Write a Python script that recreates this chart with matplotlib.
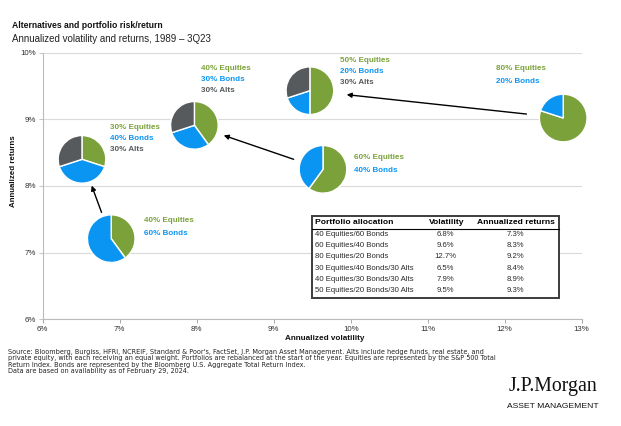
import numpy as np
import matplotlib
matplotlib.use('Agg')
from matplotlib import pyplot as plt
from matplotlib.patches import Rectangle

plt.rcParams['font.family'] = ['Liberation Sans', 'DejaVu Sans']

# portfolios, in table order
names = ['40 Equities/60 Bonds', '60 Equities/40 Bonds', '80 Equities/20 Bonds',
         '30 Equities/40 Bonds/30 Alts', '40 Equities/30 Bonds/30 Alts',
         '50 Equities/20 Bonds/30 Alts']
equities = [40, 60, 80, 30, 40, 50]
bonds = [60, 40, 20, 40, 30, 20]
alts = [0, 0, 0, 30, 30, 30]
# where the pies sit on the chart
pie_vol = [6.89, 9.64, 12.76, 6.51, 7.97, 9.47]
pie_ret = [7.21, 8.25, 9.02, 8.40, 8.91, 9.43]
# table values
table_vol = [6.8, 9.6, 12.7, 6.5, 7.9, 9.5]
table_ret = [7.3, 8.3, 9.2, 8.4, 8.9, 9.3]
# arrows: from portfolio -> to portfolio
arrows = [(0, 3), (1, 4), (2, 5)]

x_ticks = [6, 7, 8, 9, 10, 11, 12, 13]
y_ticks = [6, 7, 8, 9, 10]

GREEN = '#7BA23A'
BLUE = '#0B95F2'
GREY = '#565A5D'

W, H = 621, 426
fig = plt.figure(figsize=(W / 100, H / 100), dpi=100)


def fx(px):
    return px / W


def fy(py):
    return 1 - py / H


ax_l, ax_r, ax_t, ax_b = 42.7, 581.7, 52.7, 319.3
ax = fig.add_axes([fx(ax_l), fy(ax_b), fx(ax_r - ax_l), (ax_b - ax_t) / H])
ax.set_xlim(6, 13)
ax.set_ylim(6, 10)
ax.set_xticks(x_ticks)
ax.set_yticks(y_ticks)
ax.set_xticklabels([f'{t}%' for t in x_ticks])
ax.set_yticklabels([f'{t}%' for t in y_ticks])
ax.tick_params(labelsize=5.7, colors='#333333', length=3, width=0.6, pad=2)
ax.tick_params(axis='x', color='#999999')
ax.tick_params(axis='y', color='#bbbbbb')
for s in ['top', 'right']:
    ax.spines[s].set_visible(False)
for s in ['left', 'bottom']:
    ax.spines[s].set_color('#bbbbbb')
    ax.spines[s].set_linewidth(0.8)
ax.yaxis.grid(True, color='#dadada', lw=0.8)
ax.set_axisbelow(True)

# pies
r_px = 25
rx = r_px * 7 / (ax_r - ax_l)
ry = r_px * 4 / (ax_b - ax_t)
for i in range(len(names)):
    vals = [equities[i], bonds[i], alts[i]]
    cols = [GREEN, BLUE, GREY]
    vals, cols = zip(*[(v, c) for v, c in zip(vals, cols) if v > 0])
    ia = ax.inset_axes([pie_vol[i] - rx, pie_ret[i] - ry, 2 * rx, 2 * ry],
                       transform=ax.transData)
    ia.pie(vals, colors=cols, startangle=90, counterclock=False, radius=1,
           wedgeprops=dict(edgecolor='white', linewidth=1.0))
    ia.set_xlim(-1.05, 1.05)
    ia.set_ylim(-1.05, 1.05)
    ia.axis('off')

# arrows
gaps = [28, 31, 37]
for (a, b), g in zip(arrows, gaps):
    ax.annotate('', xy=(pie_vol[b], pie_ret[b]), xytext=(pie_vol[a], pie_ret[a]),
                arrowprops=dict(arrowstyle='-|>', color='black', lw=1.0,
                                mutation_scale=7, shrinkA=g * 0.72, shrinkB=g * 0.72))

# pie labels: offset from centre in px (dx, dy of first line, line spacing)
label_offsets = [(33, -18, 13), (31, -12, 13), (-67, -50, 13),
                 (28, -32, 11), (7, -57, 11), (30, -30, 11)]
for i, (dx, dy, sp) in enumerate(label_offsets):
    lines = [(f'{equities[i]}% Equities', GREEN), (f'{bonds[i]}% Bonds', BLUE)]
    if alts[i]:
        lines.append((f'{alts[i]}% Alts', GREY))
    for k, (txt, c) in enumerate(lines):
        ax.annotate(txt, xy=(pie_vol[i], pie_ret[i]), xytext=(dx * 0.72, -(dy + k * sp) * 0.72),
                    textcoords='offset points', ha='left', va='center',
                    fontsize=5.8, fontweight='bold', color=c)

# axis labels
fig.text(fx(325), fy(339), 'Annualized volatility', ha='center', va='center',
         fontsize=5.9, fontweight='bold', color='#111111')
fig.text(fx(13.5), fy(171), 'Annualized returns', ha='center', va='center',
         rotation=90, fontsize=5.7, fontweight='bold', color='#111111')

# titles
fig.text(fx(11.5), fy(26), 'Alternatives and portfolio risk/return', ha='left', va='center',
         fontsize=6.2, fontweight='bold', color='#111111')
fig.text(fx(11.5), fy(39), 'Annualized volatility and returns, 1989 \u2013 3Q23', ha='left',
         va='center', fontsize=7.0, color='#222222')

# table
tb_l, tb_t, tb_r, tb_b = 312.3, 215.5, 559, 297.5
fig.add_artist(Rectangle((fx(tb_l), fy(tb_b)), fx(tb_r - tb_l), (tb_b - tb_t) / H,
                         transform=fig.transFigure, facecolor='white',
                         edgecolor='#3c3c3c', lw=1.4, zorder=5))
fig.add_artist(plt.Line2D([fx(tb_l), fx(tb_r)], [fy(228.5), fy(228.5)],
                          transform=fig.transFigure, color='black', lw=0.8, zorder=6))
hdr_y = 222.8
fig.text(fx(315), fy(hdr_y), 'Portfolio allocation', ha='left', va='center',
         fontsize=6.1, fontweight='bold', zorder=7)
fig.text(fx(446.3), fy(hdr_y), 'Volatility', ha='center', va='center',
         fontsize=6.1, fontweight='bold', zorder=7)
fig.text(fx(516), fy(hdr_y), 'Annualized returns', ha='center', va='center',
         fontsize=6.1, fontweight='bold', zorder=7)
for i in range(len(names)):
    yy = 234 + i * 11.35
    fig.text(fx(315), fy(yy), names[i], ha='left', va='center', fontsize=5.6,
             color='#2a2a2a', zorder=7)
    fig.text(fx(445), fy(yy), f'{table_vol[i]:.1f}%', ha='center', va='center',
             fontsize=5.6, color='#2a2a2a', zorder=7)
    fig.text(fx(515), fy(yy), f'{table_ret[i]:.1f}%', ha='center', va='center',
             fontsize=5.6, color='#2a2a2a', zorder=7)

# footnote
notes = [
    "Source: Bloomberg, Burgiss, HFRI, NCREIF, Standard & Poor's, FactSet, J.P. Morgan Asset Management. Alts include hedge funds, real estate, and",
    "private equity, with each receiving an equal weight. Portfolios are rebalanced at the start of the year. Equities are represented by the S&P 500 Total",
    "Return Index. Bonds are represented by the Bloomberg U.S. Aggregate Total Return Index.",
    "Data are based on availability as of February 29, 2024.",
]
for k, line in enumerate(notes):
    fig.text(fx(8.5), fy(352 + k * 6.4), line, ha='left', va='center',
             fontsize=4.7, family='DejaVu Sans', color='#222222')

# logo
fig.text(fx(552.5), fy(387), 'J.P.Morgan', ha='center', va='center',
         fontsize=14.3, family='Liberation Serif', color='#111111')
fig.text(fx(552.5), fy(406), 'ASSET MANAGEMENT', ha='center', va='center',
         fontsize=6.1, color='#111111')

fig.savefig('out.png', dpi=100)
